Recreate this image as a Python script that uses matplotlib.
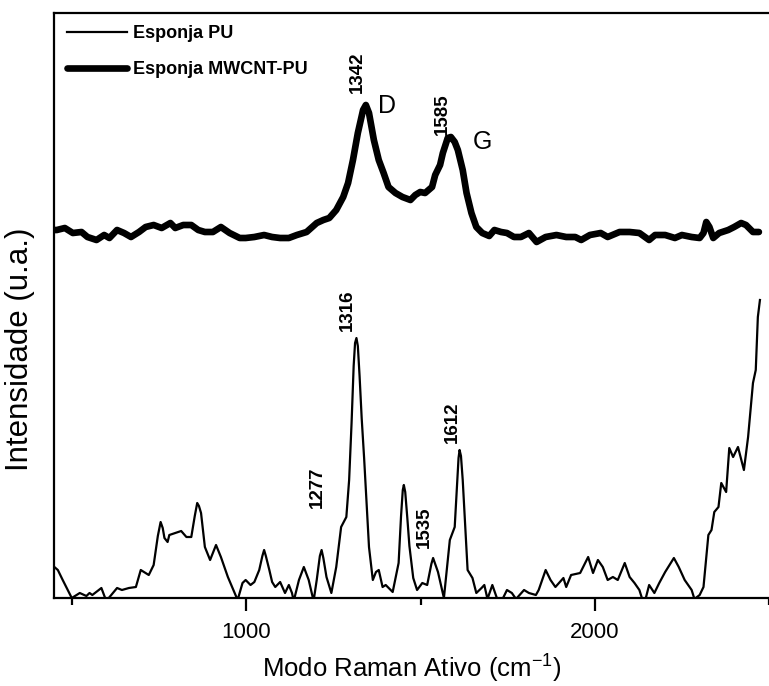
import matplotlib
matplotlib.use("Agg")
import matplotlib.pyplot as plt

plt.rcParams['font.family'] = ['Liberation Sans', 'DejaVu Sans']

# Esponja PU (thin line): Raman shift (cm-1) and intensity (a.u.)
pu_x = [449, 459, 473, 499, 522, 541, 550, 558, 584, 598, 629, 643, 663, 683, 697, 711, 720, 734,
        746, 754, 760, 765, 774, 779, 796, 813, 828, 842, 852, 859, 864, 870, 881, 896, 913, 927, 947, 975, 989, 998,
        1012, 1023, 1037, 1046, 1051, 1056, 1066, 1074, 1083, 1097, 1111, 1122, 1131, 1136, 1151, 1165, 1179,
        1193, 1202, 1211, 1216, 1221, 1230, 1244, 1258, 1272, 1287, 1295, 1302, 1308, 1312, 1316, 1320, 1325, 1331, 1338, 1352, 1363,
        1372, 1380, 1391, 1400, 1420, 1437, 1444, 1449, 1452, 1456, 1462, 1468, 1479, 1490, 1505, 1519, 1531, 1536, 1541, 1550, 1567,
        1584, 1598, 1604, 1609, 1612, 1616, 1621, 1627, 1635, 1649, 1660, 1675, 1683, 1692, 1706, 1720, 1734, 1748, 1762,
        1774, 1797, 1811, 1831, 1839, 1859, 1873, 1887, 1910, 1918, 1932, 1958, 1981, 1995, 2009,
        2023, 2037, 2052, 2066, 2086, 2100, 2114, 2128, 2137, 2145, 2156, 2171, 2185, 2202, 2227,
        2241, 2258, 2278, 2286, 2301, 2312, 2326, 2335, 2343, 2355, 2363, 2377, 2386, 2397, 2411,
        2428, 2440, 2454, 2462, 2468, 2474]
pu_y = [31, 28, 18, 0, 5, 2, 5, 3, 10, -3, 10, 8, 10, 11, 28, 25, 23, 33,
        62, 76, 70, 60, 56, 63, 65, 67, 61, 61, 82, 95, 92, 85, 51, 38, 53, 41, 21, -2, 15, 18,
        13, 16, 28, 42, 48, 42, 28, 16, 11, 16, 5, 13, 5, -3, 18, 31, 18,
        -3, 18, 42, 48, 40, 21, 5, 31, 71, 81, 118, 175, 232, 255, 260, 252, 222, 180, 140, 51, 18,
        26, 28, 11, 13, 6, 35, 82, 108, 113, 106, 80, 52, 20, 8, 15, 13, 34, 40, 35, 26, 0,
        58, 71, 108, 140, 148, 142, 118, 80, 28, 20, 5, 10, 13, -1, 13, -1, -2, 8, 5,
        -1, 8, 5, 3, 8, 28, 18, 11, 20, 11, 23, 25, 41, 25, 38,
        31, 18, 21, 18, 35, 21, 15, 8, -2, -2, 13, 5, 15, 26, 40,
        31, 18, 8, -1, 3, 11, 63, 68, 86, 91, 115, 106, 150, 141, 151,
        128, 161, 215, 228, 281, 298]

# Esponja MWCNT-PU (thick line)
cnt_x = [448, 456, 479, 502, 527, 544, 570, 592, 607, 629, 649, 669, 692, 711, 734, 757, 782, 796,
         819, 842, 862, 881, 904, 927, 952, 981, 998, 1023, 1051, 1074, 1097, 1122, 1145, 1173,
         1202, 1221, 1238, 1258, 1278, 1292, 1306, 1320, 1335, 1343, 1352, 1366, 1380, 1394, 1408,
         1428, 1448, 1471, 1485, 1499, 1513, 1533, 1542, 1556, 1564, 1578, 1587, 1598, 1607, 1621,
         1632, 1646, 1660, 1677, 1697, 1712, 1731, 1748, 1768, 1788, 1811, 1833, 1859, 1890, 1918,
         1944, 1961, 1986, 2017, 2037, 2071, 2100, 2128, 2156, 2173, 2202, 2230, 2250, 2278, 2301,
         2312, 2320, 2329, 2340, 2357, 2383, 2400, 2420, 2434, 2454, 2471]
cnt_y = [368, 368, 370, 365, 366, 361, 358, 363, 360, 368, 365, 361, 366, 371, 373, 370, 375, 370,
         373, 373, 368, 366, 366, 371, 365, 360, 360, 361, 363, 361, 360, 360, 363, 366,
         375, 378, 380, 388, 401, 415, 438, 465, 488, 493, 485, 458, 438, 425, 411,
         405, 401, 398, 403, 406, 405, 411, 423, 433, 445, 460, 461, 456, 448, 428,
         405, 385, 371, 365, 362, 368, 366, 365, 361, 361, 365, 356, 361, 363, 361,
         361, 358, 363, 365, 361, 366, 366, 365, 358, 363, 363, 360, 363, 361, 360,
         365, 376, 371, 360, 365, 368, 371, 375, 373, 366, 366]

# peak labels: (text, x, y, rotation)
peak_labels = [("1342", 1320, 526, 90), ("1585", 1563, 484, 90),
               ("1316", 1290, 288, 90), ("1277", 1205, 111, 90),
               ("1535", 1510, 71, 90), ("1612", 1592, 176, 90)]
band_labels = [("D", 1405, 492), ("G", 1677, 456)]

series_names = ["Esponja PU", "Esponja MWCNT-PU"]
x_ticks = [1000, 2000]
x_minor = [500, 1500, 2500]

fig = plt.figure(figsize=(7.69, 6.86), dpi=100)
ax = fig.add_axes([54 / 769, 88 / 686, 1 - 54 / 769, (598 - 13) / 686])

l1, = ax.plot(pu_x, pu_y, color='black', lw=1.6, label=series_names[0])
l2, = ax.plot(cnt_x, cnt_y, color='black', lw=4.8, solid_joinstyle='round',
              solid_capstyle='round', label=series_names[1])

ax.set_xlim(448, 2475)
ax.set_ylim(0, 585)

for t, x, y, r in peak_labels:
    ax.text(x, y, t, rotation=r, ha='center', va='center', fontsize=13.5, fontweight='bold')
for t, x, y in band_labels:
    ax.text(x, y, t, ha='center', va='center', fontsize=18)

ax.set_xticks(x_ticks)
ax.set_xticklabels([str(v) for v in x_ticks], fontsize=16)
ax.set_xticks(x_minor, minor=True)
ax.set_yticks([])
ax.tick_params(axis='x', which='major', direction='out', length=9, width=1.6, pad=8)
ax.tick_params(axis='x', which='minor', direction='out', length=5, width=1.6)
for s in ['left', 'bottom', 'top']:
    ax.spines[s].set_linewidth(1.6)
ax.spines['right'].set_visible(False)

ax.set_xlabel("Modo Raman Ativo (cm$^{\\mathregular{-1}}$)", fontsize=18.5, labelpad=6)
ax.set_ylabel("Intensidade (u.a.)", fontsize=22.5)
ax.yaxis.set_label_coords(-0.027, 0.426)

leg = ax.legend(handles=[l1, l2], loc='upper left', frameon=False,
                bbox_to_anchor=(67 / 769, 1 - 25 / 686), bbox_transform=fig.transFigure,
                borderaxespad=0, borderpad=0, handlelength=3.3, handletextpad=0.35,
                labelspacing=1.05, prop={'weight': 'bold', 'size': 13})

fig.savefig("out.png", dpi=100)
